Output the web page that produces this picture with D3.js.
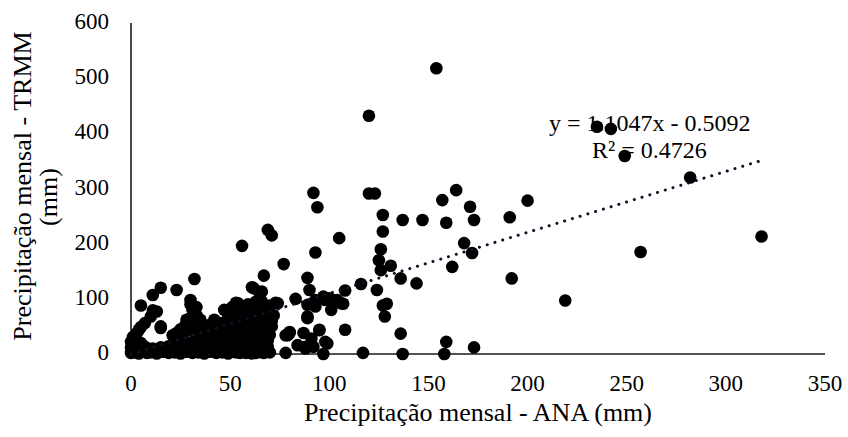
<!DOCTYPE html>
<html>
<head>
<meta charset="utf-8">
<script src="https://cdn.jsdelivr.net/npm/d3@7"></script>
<style>
	body { margin: 0; background: #fff; }
	svg { display: block; }
	text { font-family: "Liberation Serif", "Times New Roman", serif; fill: #000; }
</style>
</head>
<body>
<svg id="chart" width="848" height="437"></svg>
<script>
// Values
const width = 848,
	height = 437,
	margin = { top: 23, right: 23, bottom: 83, left: 131 };

// data: ANA (x) vs TRMM (y), mm
const ana = [
	// sparse points
	154, 120, 120, 123, 164, 157, 200, 127, 137, 147, 159, 171, 173, 191, 127, 105, 126, 168, 172, 125,
	126, 131, 162, 136, 144, 192, 116, 124, 108, 219, 127, 129, 128, 107, 108, 136, 159, 173, 117, 137,
	158, 235, 242, 249, 282, 257, 318,
	92, 94, 69, 71, 56, 93, 77, 67, 89, 32, 23, 15, 11, 5, 30, 11, 5, 15,
	61, 66, 53, 57, 73, 67, 64, 69, 52, 42, 90, 83, 93, 97, 101, 106, 89, 101, 100, 104,
	78, 80, 87, 95, 84, 88, 92, 99, 78, 97, 62, 65, 89, 93, 98, 54, 74, 67, 68, 64,
	89, 60, 69, 79, 80, 91, 95, 98, 88, 66, 63, 58, 53,
	13, 10, 7, 4, 15, 31, 33, 35, 28, 27, 23, 42, 37, 45, 48, 0, 1, 3,
	// dense cluster near the origin
	0, 2, 4, 6, 8, 10, 13, 16, 19, 22, 25, 28, 31, 34, 37, 40, 43, 46, 49, 52, 55, 58, 61, 64, 67, 70,
	0, 3, 7, 11, 15, 19, 24, 29, 33, 38, 42, 47, 51, 56, 60, 65, 69,
	1, 5, 22, 26, 31, 36, 41, 46, 50, 55, 59, 64, 68,
	3, 6, 21, 24, 27, 30, 33, 36, 39, 42, 45, 48, 51, 54, 57, 60, 63, 66, 69,
	25, 28, 30, 32, 33, 30, 35, 38, 40, 44, 47, 50, 53, 56, 60, 63, 66, 58, 55, 62, 50, 46,
	48, 50, 52, 55, 57, 60, 62, 65, 67, 70, 71, 49, 47, 51, 56, 59, 63, 70, 72,
	62, 65, 68, 58, 66, 71, 60
];
const trmm = [
	518, 432, 291, 291, 297, 279, 278, 252, 243, 243, 238, 267, 243, 248, 222, 210, 190, 201, 183, 170,
	152, 160, 158, 137, 128, 137, 127, 116, 115, 97, 88, 91, 68, 91, 44, 37, 22, 12, 2, 0,
	0, 412, 408, 359, 320, 185, 213,
	292, 266, 225, 215, 196, 184, 163, 142, 138, 136, 116, 120, 107, 88, 98, 79, 49, 50,
	121, 113, 93, 85, 93, 89, 68, 56, 74, 59, 116, 100, 98, 104, 99, 92, 68, 80, 101, 98,
	34, 38, 38, 44, 16, 10, 13, 19, 2, 0, 119, 110, 89, 86, 98, 92, 92, 86, 68, 58,
	65, 47, 25, 34, 40, 28, 43, 22, 13, 3, 2, 2, 3,
	77, 68, 56, 44, 47, 80, 71, 62, 62, 50, 38, 62, 44, 56, 53, 22, 31, 38,
	2, 3, 1, 4, 2, 3, 1, 4, 2, 3, 1, 4, 2, 3, 1, 4, 2, 3, 1, 4, 2, 3, 1, 4, 2, 3,
	12, 11, 13, 10, 12, 14, 11, 13, 12, 10, 14, 12, 11, 13, 12, 10, 13,
	22, 20, 24, 26, 22, 25, 21, 23, 26, 22, 24, 21, 25,
	9, 14, 34, 38, 40, 44, 46, 50, 52, 48, 50, 56, 58, 62, 64, 68, 72, 74, 78,
	45, 55, 65, 75, 85, 90, 35, 30, 40, 36, 30, 40, 36, 45, 35, 40, 48, 55, 70, 80, 50, 45,
	20, 30, 45, 55, 25, 15, 30, 40, 20, 35, 50, 65, 80, 85, 80, 90, 95, 88, 70,
	50, 60, 45, 75, 95, 60, 60
];
const xTicks = [0, 50, 100, 150, 200, 250, 300, 350];
const yTicks = [0, 100, 200, 300, 400, 500, 600];
const slope = 1.1047,
	intercept = -0.5092;
const eqLabel = "y = 1.1047x - 0.5092";
const r2Label = "R² = 0.4726";
const xTitle = "Precipitação mensal - ANA (mm)";
const yTitle = ["Precipitação mensal - TRMM", "(mm)"];

const data = ana.map((d, i) => [d, trmm[i]]);

// D3 scales
const x = d3.scaleLinear().domain([0, 350]).range([margin.left, width - margin.right]);
const y = d3.scaleLinear().domain([0, 600]).range([height - margin.bottom, margin.top]);

const svg = d3.select("#chart");

// axes (lines only, labels without ticks)
svg.append("line")
	.attr("x1", x(0)).attr("x2", x(0))
	.attr("y1", y(600)).attr("y2", y(0))
	.attr("stroke", "#1a1a1a").attr("stroke-width", 1.6);
svg.append("line")
	.attr("x1", x(0)).attr("x2", x(350))
	.attr("y1", y(0)).attr("y2", y(0))
	.attr("stroke", "#1a1a1a").attr("stroke-width", 1.6);

svg.selectAll(".ylabel")
	.data(yTicks)
	.join("text")
	.classed("ylabel", true)
	.attr("x", x(0) - 22)
	.attr("y", (d) => y(d) + 6)
	.attr("text-anchor", "end")
	.attr("font-size", 23)
	.text((d) => d);

svg.selectAll(".xlabel")
	.data(xTicks)
	.join("text")
	.classed("xlabel", true)
	.attr("x", (d) => x(d))
	.attr("y", y(0) + 37)
	.attr("text-anchor", "middle")
	.attr("font-size", 23)
	.text((d) => d);

svg.append("text")
	.attr("x", (x(0) + x(350)) / 2)
	.attr("y", 421)
	.attr("text-anchor", "middle")
	.attr("font-size", 26)
	.text(xTitle);

svg.selectAll(".ytitle")
	.data(yTitle)
	.join("text")
	.classed("ytitle", true)
	.attr("transform", (d, i) => (i === 0 ? "translate(31,186) rotate(-90)" : "translate(57,197) rotate(-90)"))
	.attr("text-anchor", "middle")
	.attr("font-size", 26)
	.text((d) => d);

// trendline label (sits under the points)
svg.append("text")
	.attr("x", 549).attr("y", 131)
	.attr("font-size", 24)
	.text(eqLabel);
svg.append("text")
	.attr("x", 592).attr("y", 158)
	.attr("font-size", 24)
	.text(r2Label);

// points
svg.append("g")
	.selectAll("circle")
	.data(data)
	.join("circle")
	.attr("cx", (d) => x(d[0]))
	.attr("cy", (d) => y(d[1]))
	.attr("r", 6.3)
	.attr("fill", "#000");

// linear trendline, dotted, over the points
const xExt = d3.extent(ana);
svg.append("line")
	.attr("x1", x(xExt[0])).attr("y1", y(slope * xExt[0] + intercept))
	.attr("x2", x(xExt[1])).attr("y2", y(slope * xExt[1] + intercept))
	.attr("stroke", "#0d1226")
	.attr("stroke-width", 3)
	.attr("stroke-linecap", "round")
	.attr("stroke-dasharray", "0.1 8");
</script>
</body>
</html>
